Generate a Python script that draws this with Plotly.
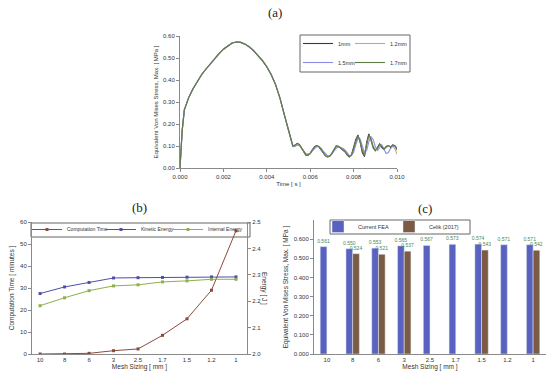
import plotly.graph_objects as go

W, H = 550, 377

# ---------------- Panel (a): stress vs time ----------------
time_head = [0.0000, 0.0001, 0.0002, 0.0003, 0.0004, 0.0006, 0.0008, 0.0010, 0.0012, 0.0014,
             0.0016, 0.0018, 0.0020, 0.0022, 0.0024, 0.0026, 0.0028, 0.0030, 0.0032, 0.0034,
             0.0036, 0.0038, 0.0040, 0.0042, 0.0044, 0.0046, 0.0048, 0.0050]
stress_head = [0.000, 0.170, 0.264, 0.295, 0.320, 0.360, 0.395, 0.425, 0.450, 0.475,
               0.500, 0.520, 0.540, 0.556, 0.568, 0.573, 0.571, 0.563, 0.550, 0.532,
               0.512, 0.488, 0.460, 0.425, 0.380, 0.320, 0.245, 0.170]
time_tail = [0.0051, 0.0052, 0.0053, 0.0054, 0.0055, 0.0056, 0.0057, 0.0058, 0.0059, 0.0060,
             0.0061, 0.0062, 0.0063, 0.0064, 0.0065, 0.0066, 0.0067, 0.0068, 0.0069, 0.0070,
             0.0071, 0.0072, 0.0073, 0.0074, 0.0075, 0.0076, 0.0077, 0.0078, 0.0079, 0.0080,
             0.0081, 0.0082, 0.0083, 0.0084, 0.0085, 0.0086, 0.0087, 0.0088, 0.0089, 0.0090,
             0.0091, 0.0092, 0.0093, 0.0094, 0.0095, 0.0096, 0.0097, 0.0098, 0.0099, 0.0100]
tail_1mm = [0.130, 0.100, 0.103, 0.112, 0.106, 0.088, 0.070, 0.058, 0.058, 0.068,
            0.083, 0.097, 0.102, 0.096, 0.082, 0.066, 0.055, 0.050, 0.054, 0.068,
            0.088, 0.101, 0.098, 0.090, 0.084, 0.074, 0.060, 0.050, 0.060, 0.092,
            0.130, 0.150, 0.118, 0.070, 0.052, 0.115, 0.155, 0.128, 0.092, 0.078,
            0.092, 0.110, 0.092, 0.084, 0.098, 0.102, 0.094, 0.105, 0.100, 0.088]
tail_1_2mm = [0.130, 0.098, 0.100, 0.108, 0.104, 0.090, 0.074, 0.062, 0.060, 0.066,
              0.080, 0.094, 0.100, 0.097, 0.086, 0.070, 0.058, 0.052, 0.054, 0.064,
              0.082, 0.096, 0.100, 0.094, 0.086, 0.076, 0.064, 0.054, 0.058, 0.082,
              0.120, 0.145, 0.125, 0.085, 0.065, 0.100, 0.140, 0.135, 0.100, 0.082,
              0.088, 0.102, 0.098, 0.088, 0.092, 0.100, 0.098, 0.100, 0.088, 0.062]
tail_1_5mm = [0.130, 0.097, 0.098, 0.105, 0.103, 0.092, 0.078, 0.066, 0.062, 0.066,
              0.078, 0.090, 0.097, 0.097, 0.090, 0.077, 0.064, 0.056, 0.056, 0.064,
              0.078, 0.090, 0.096, 0.094, 0.090, 0.082, 0.070, 0.058, 0.056, 0.072,
              0.105, 0.135, 0.132, 0.100, 0.070, 0.080, 0.118, 0.142, 0.130, 0.098,
              0.080, 0.092, 0.105, 0.085, 0.066, 0.070, 0.088, 0.098, 0.100, 0.092]
tail_1_7mm = [0.130, 0.100, 0.104, 0.112, 0.107, 0.090, 0.072, 0.060, 0.058, 0.066,
              0.082, 0.096, 0.102, 0.098, 0.085, 0.068, 0.056, 0.050, 0.053, 0.066,
              0.086, 0.100, 0.099, 0.092, 0.085, 0.075, 0.062, 0.052, 0.058, 0.088,
              0.126, 0.148, 0.122, 0.078, 0.056, 0.108, 0.150, 0.132, 0.096, 0.080,
              0.090, 0.108, 0.095, 0.086, 0.096, 0.102, 0.096, 0.104, 0.102, 0.082]
series_a_names = ["1mm", "1.2mm", "1.5mm", "1.7mm"]
series_a_tails = [tail_1mm, tail_1_2mm, tail_1_5mm, tail_1_7mm]
series_a_colors = ["#3a3a3a", "#c9a877", "#8c8ce6", "#5f7d45"]
series_a_legend = ["legend", "legend2", "legend", "legend2"]
x_ticks_a = [0.000, 0.002, 0.004, 0.006, 0.008, 0.010]
y_ticks_a = [0.00, 0.10, 0.20, 0.30, 0.40, 0.50, 0.60]

# ---------------- Panel (b): mesh convergence ----------------
mesh_sizes = ["10", "8", "6", "3", "2.5", "1.7", "1.5", "1.2", "1"]
computation_time = [0.0, 0.0, 0.3, 1.5, 2.3, 8.5, 16.0, 29.0, 56.0]
kinetic_energy = [2.229, 2.254, 2.271, 2.288, 2.289, 2.290, 2.291, 2.292, 2.292]
internal_energy = [2.183, 2.213, 2.240, 2.258, 2.262, 2.273, 2.277, 2.283, 2.283]

# ---------------- Panel (c): stress comparison ----------------
current_fea = [0.561, 0.550, 0.553, 0.565, 0.567, 0.573, 0.574, 0.571, 0.571]
celik_2017 = [None, 0.524, 0.521, 0.537, None, None, 0.543, None, 0.542]

FONT = "Liberation Sans, Arial, sans-serif"
AX = "#8a8a8a"
TXT = "#333333"
LEG_FS = 5.5


def px_x(p):
    return p / W


def px_y(p):
    return 1 - p / H


fig = go.Figure()

for name, tail, color, lg in zip(series_a_names, series_a_tails, series_a_colors, series_a_legend):
    fig.add_trace(go.Scatter(
        x=time_head + time_tail, y=stress_head + tail, name=name, mode="lines",
        line=dict(color=color, width=1.1), xaxis="x", yaxis="y", legend=lg))

fig.add_trace(go.Scatter(
    x=mesh_sizes, y=computation_time, name="Computation Time", mode="lines+markers",
    line=dict(color="#8c4a3c", width=1), marker=dict(symbol="square", size=3, color="#8c4a3c"),
    xaxis="x2", yaxis="y2", legend="legend3", legendwidth=29))
fig.add_trace(go.Scatter(
    x=mesh_sizes, y=kinetic_energy, name="Kinetic Energy", mode="lines+markers",
    line=dict(color="#4d4fa8", width=1), marker=dict(symbol="square", size=3, color="#4d4fa8"),
    xaxis="x2", yaxis="y3", legend="legend3", legendwidth=22))
fig.add_trace(go.Scatter(
    x=mesh_sizes, y=internal_energy, name="Internal Energy", mode="lines+markers",
    line=dict(color="#8db04a", width=1), marker=dict(symbol="square", size=3, color="#8db04a"),
    xaxis="x2", yaxis="y3", legend="legend3", legendwidth=36))

fig.add_trace(go.Bar(
    x=mesh_sizes, y=current_fea, name="Current FEA", marker=dict(color="#5a62c0"),
    texttemplate="%{y:.3f}", textposition="outside", constraintext="none", cliponaxis=False,
    textfont=dict(size=5, color="#3f8a5a", family=FONT),
    xaxis="x3", yaxis="y4", legend="legend4", legendwidth=26))
fig.add_trace(go.Bar(
    x=mesh_sizes, y=celik_2017, name="Celik (2017)", marker=dict(color="#7c5b44"),
    texttemplate="%{y:.3f}", textposition="outside", constraintext="none", cliponaxis=False,
    textfont=dict(size=5, color="#3f8a5a", family=FONT),
    xaxis="x3", yaxis="y4", legend="legend4", legendwidth=30))

axis_common = dict(showline=True, linecolor=AX, linewidth=1, showgrid=False, zeroline=False,
                   ticks="outside", ticklen=3, tickcolor=AX, tickfont=dict(size=6, color=TXT, family=FONT),
                   automargin=False)

legend_common = dict(font=dict(size=LEG_FS, color=TXT, family=FONT), bgcolor="rgba(255,255,255,0)",
                     itemwidth=30, xanchor="left", yanchor="top", tracegroupgap=0, borderwidth=0)

fig.update_layout(
    width=W, height=H, margin=dict(l=0, r=0, t=0, b=0),
    paper_bgcolor="white", plot_bgcolor="white",
    font=dict(family=FONT, size=6, color=TXT),
    barmode="group", bargap=0.48, bargroupgap=0,
    xaxis=dict(axis_common, domain=[px_x(180), px_x(397)], range=[0, 0.010], anchor="y",
               tickvals=x_ticks_a, ticktext=[f"{v:.3f}" for v in x_ticks_a],
               title=dict(text="Time [ s ]", font=dict(size=6), standoff=2)),
    yaxis=dict(axis_common, domain=[px_y(168), px_y(36)], range=[0, 0.6], anchor="x",
               tickvals=y_ticks_a, ticktext=[f"{v:.2f}" for v in y_ticks_a],
               title=dict(text="Equivalent Von Mises Stress, Max. [ MPa ]", font=dict(size=6), standoff=4)),
    xaxis2=dict(axis_common, domain=[px_x(32), px_x(247)], type="category", range=[-0.33, 8.45],
                anchor="y2", ticks="", title=dict(text="Mesh Sizing [ mm ]", font=dict(size=6.5), standoff=2)),
    yaxis2=dict(axis_common, domain=[px_y(354), px_y(222)], range=[0, 60], anchor="x2",
                tickvals=[0, 10, 20, 30, 40, 50, 60],
                title=dict(text="Computation Time [ minutes ]", font=dict(size=6.5), standoff=4)),
    yaxis3=dict(axis_common, domain=[px_y(354), px_y(222)], range=[2.0, 2.5], anchor="x2",
                overlaying="y2", side="right", tickvals=[2.0, 2.1, 2.2, 2.3, 2.4, 2.5],
                ticktext=["2.0", "2.1", "2.2", "2.3", "2.4", "2.5"]),
    xaxis3=dict(axis_common, domain=[px_x(314), px_x(546)], type="category", range=[-0.5, 8.5],
                anchor="y4", ticks="", title=dict(text="Mesh Sizing [ mm ]", font=dict(size=6.5), standoff=2)),
    yaxis4=dict(axis_common, domain=[px_y(354), px_y(220)], range=[0, 0.7], anchor="x3",
                tickvals=[0, 0.1, 0.2, 0.3, 0.4, 0.5, 0.6],
                ticktext=[f"{v:.3f}" for v in [0, 0.1, 0.2, 0.3, 0.4, 0.5, 0.6]],
                title=dict(text="Equivalent Von Mises Stress, Max. [ MPa ]", font=dict(size=6.5), standoff=4)),
    legend=dict(legend_common, x=px_x(298), y=px_y(29), orientation="v"),
    legend2=dict(legend_common, x=px_x(350), y=px_y(29), orientation="v"),
    legend3=dict(legend_common, x=px_x(27), y=px_y(215), orientation="h", font=dict(size=5)),
    legend4=dict(legend_common, x=px_x(318), y=px_y(212), orientation="h"),
    showlegend=True,
)

# legend frames
for x0, x1, y0, y1 in [(300, 410, 35, 72), (31, 250, 223, 237), (330, 470, 220, 234)]:
    fig.add_shape(type="rect", xref="paper", yref="paper",
                  x0=px_x(x0), x1=px_x(x1), y0=px_y(y1), y1=px_y(y0),
                  line=dict(color="#666666", width=1), fillcolor="rgba(0,0,0,0)", layer="below")

for label, x, y in [("(a)", 275, 13), ("(b)", 140, 207), ("(c)", 425, 208)]:
    fig.add_annotation(text=label, x=px_x(x), y=px_y(y), xref="paper", yref="paper",
                       xanchor="center", yanchor="middle", showarrow=False,
                       font=dict(family="Liberation Serif, Times New Roman, serif", size=13, color="#222222"))

fig.add_annotation(text="Energy [ J ]", x=px_x(264), y=px_y(288), xref="paper", yref="paper",
                   xanchor="center", yanchor="middle",
                   showarrow=False, textangle=90, font=dict(size=6.5, color=TXT, family=FONT))

fig.write_html("out.html", config={"displayModeBar": False},
               post_script="document.body.style.margin='0';")
